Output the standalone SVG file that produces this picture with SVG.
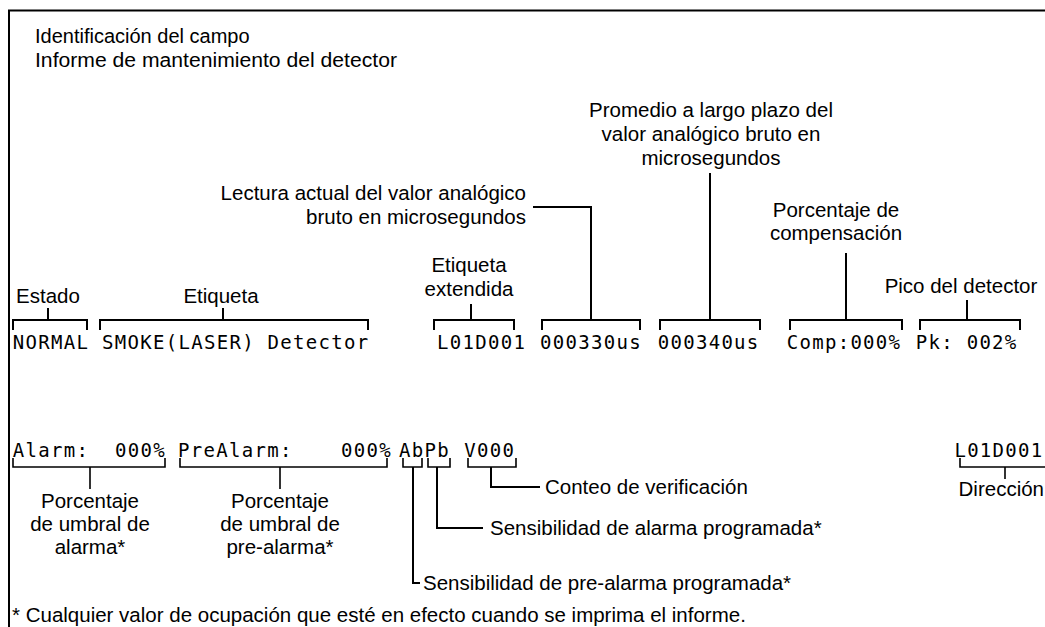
<svg xmlns="http://www.w3.org/2000/svg" width="1045" height="627" viewBox="0 0 1045 627">
<style>
.lbl{font-family:"Liberation Sans",Arial,sans-serif;font-size:20.5px;fill:#000}
.ttl{font-family:"Liberation Sans",Arial,sans-serif;font-size:20px;fill:#000}
.mid{text-anchor:middle}
.end{text-anchor:end}
.mono{font-family:"DejaVu Sans Mono","Liberation Mono",monospace;font-size:19px;letter-spacing:1.3px;fill:#000}
.ln{fill:none;stroke:#000;stroke-width:2}
.ln2{fill:none;stroke:#000;stroke-width:1.6}
</style>
<rect width="1045" height="627" fill="#fff"/>
<g id="frame"><path class="ln" d="M9,627 V10.5 H1045"/></g>
<g id="title">
<text class="ttl" x="35" y="43">Identificación del campo</text>
<text class="ttl" x="35" y="67" textLength="362" lengthAdjust="spacingAndGlyphs">Informe de mantenimiento del detector</text>
</g>
<g id="row1">
<text class="mono" x="12.7" y="349">NORMAL</text>
<text class="mono" x="102" y="349">SMOKE(LASER) Detector</text>
<text class="mono" x="437" y="349">L01D001</text>
<text class="mono" x="540" y="349">000330us</text>
<text class="mono" x="657.7" y="349">000340us</text>
<text class="mono" x="786.7" y="349">Comp:000%</text>
<text class="mono" x="915.7" y="349">Pk: 002%</text>
</g>
<g id="row2">
<text class="mono" x="12.7" y="457">Alarm:</text>
<text class="mono" x="115" y="457">000%</text>
<text class="mono" x="178" y="457">PreAlarm:</text>
<text class="mono" x="341" y="457">000%</text>
<text class="mono" x="399" y="457">AbPb</text>
<text class="mono" x="464.2" y="457">V000</text>
<text class="mono" x="954.4" y="457">L01D001</text>
</g>
<g id="estado"><text class="lbl mid" x="48" y="303">Estado</text></g>
<g id="etiqueta"><text class="lbl mid" x="221" y="303">Etiqueta</text></g>
<g id="etiqueta-extendida">
<text class="lbl mid" x="469" y="272">Etiqueta</text>
<text class="lbl mid" x="469" y="296">extendida</text>
</g>
<g id="lectura">
<text class="lbl end" x="526" y="200">Lectura actual del valor analógico</text>
<text class="lbl end" x="526" y="224">bruto en microsegundos</text>
</g>
<g id="promedio">
<text class="lbl mid" x="711" y="117">Promedio a largo plazo del</text>
<text class="lbl mid" x="711" y="141">valor analógico bruto en</text>
<text class="lbl mid" x="711" y="165">microsegundos</text>
</g>
<g id="compensacion">
<text class="lbl mid" x="836" y="217">Porcentaje de</text>
<text class="lbl mid" x="836" y="240">compensación</text>
</g>
<g id="pico"><text class="lbl mid" x="961" y="293">Pico del detector</text></g>
<g id="umbral-alarma">
<text class="lbl mid" x="90" y="508">Porcentaje</text>
<text class="lbl mid" x="90" y="531">de umbral de</text>
<text class="lbl mid" x="90" y="554">alarma*</text>
</g>
<g id="umbral-prealarma">
<text class="lbl mid" x="280" y="508">Porcentaje</text>
<text class="lbl mid" x="280" y="531">de umbral de</text>
<text class="lbl mid" x="280" y="554">pre-alarma*</text>
</g>
<g id="conteo"><text class="lbl" x="545" y="494">Conteo de verificación</text></g>
<g id="sens-alarma"><text class="lbl" x="490" y="535">Sensibilidad de alarma programada*</text></g>
<g id="sens-prealarma"><text class="lbl" x="423" y="590">Sensibilidad de pre-alarma programada*</text></g>
<g id="direccion"><text class="lbl end" x="1044" y="496">Dirección</text></g>
<g id="nota"><text class="lbl" x="12" y="622">* Cualquier valor de ocupación que esté en efecto cuando se imprima el informe.</text></g>
<g id="connectors">
<path class="ln" d="M13,330 V320 H87 V330 M48,308 V320"/>
<path class="ln" d="M100,330 V320 H368 V330 M223,308 V320"/>
<path class="ln" d="M434,330 V320 H514 V330 M471,304 V320"/>
<path class="ln" d="M542,330 V320 H640 V330 M591,320 V207 H533"/>
<path class="ln" d="M660,330 V320 H760 V330 M710,320 V173"/>
<path class="ln" d="M790,330 V320 H902 V330 M846,320 V253"/>
<path class="ln" d="M920,330 V320 H1020 V330 M967,320 V300"/>
<path class="ln2" d="M13,458 V467 H165 V458 M90,467 V489"/>
<path class="ln2" d="M180,458 V467 H387 V458 M280,467 V489"/>
<path class="ln2" d="M403,458 V467 H422 V458"/>
<path class="ln" d="M413,467 V583 H420"/>
<path class="ln2" d="M428,458 V467 H450 V458"/>
<path class="ln" d="M437,467 V528 H483"/>
<path class="ln2" d="M468,458 V467 H516 V458"/>
<path class="ln" d="M491,467 V487 H540"/>
<path class="ln2" d="M960,458 V467 H1045 M1005,467 V479"/>
</g>
</svg>
